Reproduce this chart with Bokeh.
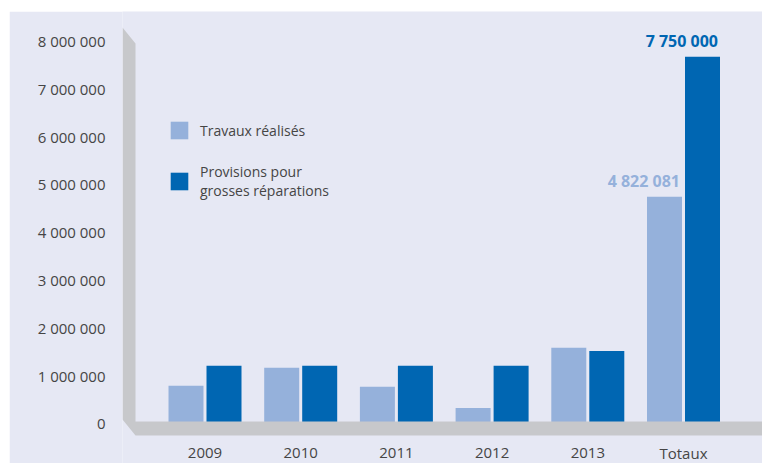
from bokeh.plotting import figure
from bokeh.models import (ColumnDataSource, Range1d, FixedTicker, Legend, LegendItem,
                          PolyAnnotation, Spacer)
from bokeh.layouts import column, row
from bokeh.transform import dodge
from bokeh.core.properties import value
from bokeh.embed import file_html
from bokeh.resources import INLINE

categories = ["2009", "2010", "2011", "2012", "2013", "Totaux"]
travaux = [872000, 1248000, 850000, 410000, 1666000, 4822081]
provisions = [1290000, 1290000, 1290000, 1290000, 1600000, 7750000]
y_ticks = [0, 1000000, 2000000, 3000000, 4000000, 5000000, 6000000, 7000000, 8000000]

BG = "#e6e8f4"
LIGHT = "#95b1db"
DARK = "#0066b2"
GRAY = "#c7c8cb"
TXT = "#454545"
FONT = "Open Sans"

# canvas placed at page (9, 11)
OX, OY = 9, 11
W, H = 762 - OX, 463 - OY
FRAME_LEFT_PAGE = 122
FL = FRAME_LEFT_PAGE - OX
FW, FH = W - FL, H
PX_X = 95.7                # pixels per category
PX_Y = 47.83 / 1e6         # pixels per unit value
ZERO_PAGE = 427
FIRST_PAGE = 204.5

xs0 = -(FIRST_PAGE - FRAME_LEFT_PAGE) / PX_X
ys0 = -(463 - ZERO_PAGE) / PX_Y
p = figure(width=W, height=H, output_backend="svg", toolbar_location=None,
           x_range=Range1d(xs0, xs0 + FW / PX_X), y_range=Range1d(ys0, ys0 + FH / PX_Y),
           x_axis_location=None, min_border_left=FL, min_border_top=0,
           min_border_right=0, min_border_bottom=0)
p.background_fill_color = BG
p.border_fill_color = BG
p.outline_line_color = None
p.grid.visible = False

# page pixel -> data helpers for the decorative 3D wall / floor
def dx(px):
    return xs0 + (px - FRAME_LEFT_PAGE) / PX_X
def dy(py):
    return ys0 + (463 - py) / PX_Y

wall = PolyAnnotation(
    xs=[dx(122), dx(135), dx(135), dx(762), dx(762), dx(135), dx(122)],
    ys=[dy(27), dy(43), dy(421), dy(421), dy(435), dy(435), dy(419)],
    fill_color=GRAY, fill_alpha=1, line_color=None)
p.add_layout(wall)

src = ColumnDataSource(dict(x=list(range(len(categories))), cat=categories,
                            t=travaux, pr=provisions))
off = 19 / PX_X
bw = 35 / PX_X
r1 = p.vbar(x=dodge("x", -off, range=p.x_range), top="t", width=bw, source=src,
            fill_color=LIGHT, line_color=None)
r2 = p.vbar(x=dodge("x", off, range=p.x_range), top="pr", width=bw, source=src,
            fill_color=DARK, line_color=None)

# category labels
p.text(x="x", y=0, text="cat", source=src, y_offset=25, text_align="center",
       text_baseline="middle", text_font=value(FONT), text_font_size="15px",
       text_color=TXT)

# value labels on totals
last = len(categories) - 1
def fmt(v):
    return f"{v:,}".replace(",", " ")
lab_t = ColumnDataSource(dict(x=[last], y=[travaux[last]], txt=[fmt(travaux[last])]))
lab_p = ColumnDataSource(dict(x=[last], y=[provisions[last]], txt=[fmt(provisions[last])]))
for s, dd, col in ((lab_t, -off, LIGHT), (lab_p, off, DARK)):
    p.text(x=dodge("x", dd + bw / 2, range=p.x_range), y="y", text="txt", source=s,
           x_offset=-2, y_offset=-5, text_align="right", text_baseline="bottom",
           text_font=value(FONT), text_font_style="bold", text_font_size="16px",
           text_color=col)

# y axis: labels sit ~4px above their value level, as in the reference
shift = round(4 / PX_Y)
ax = p.yaxis[0]
ax.ticker = FixedTicker(ticks=[t + shift for t in y_ticks])
ax.major_label_overrides = {t + shift: fmt(t) for t in y_ticks}
ax.axis_line_color = None
ax.major_tick_line_color = None
ax.minor_tick_line_color = None
ax.major_tick_out = 0
ax.major_tick_in = 0
ax.major_label_standoff = 17
ax.major_label_text_font = FONT
ax.major_label_text_font_size = "15px"
ax.major_label_text_color = TXT

legend = Legend(items=[LegendItem(label="Travaux réalisés", renderers=[r1]),
                       LegendItem(label="Provisions pour\ngrosses réparations", renderers=[r2])],
                location=(46, 263), glyph_width=22, glyph_height=22, label_standoff=10,
                spacing=21, padding=0, margin=0, border_line_color=None,
                background_fill_alpha=0, label_text_font=FONT,
                label_text_font_size="14px", label_text_color=TXT)
p.add_layout(legend)

layout = column(Spacer(height=OY), row(Spacer(width=OX), p))
open("out.html", "w").write(file_html(layout, INLINE))
